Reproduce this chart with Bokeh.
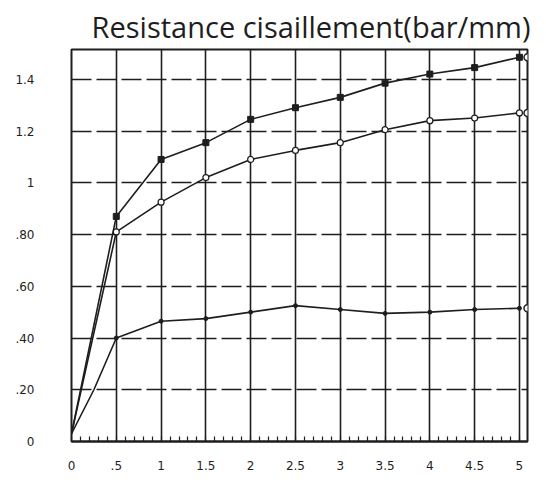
from bokeh.plotting import figure
from bokeh.models import SingleIntervalTicker, FixedTicker, Range1d
from bokeh.embed import file_html
from bokeh.resources import INLINE

# Shear resistance (bar/mm) for three test series
x_main = [0, 0.5, 1, 1.5, 2, 2.5, 3, 3.5, 4, 4.5, 5]
series_top = [0.03, 0.87, 1.09, 1.155, 1.245, 1.29, 1.33, 1.385, 1.42, 1.445, 1.485]
series_mid = [0.03, 0.81, 0.925, 1.02, 1.09, 1.125, 1.155, 1.205, 1.24, 1.25, 1.27]
x_low = [0, 0.25, 0.5, 1, 1.5, 2, 2.5, 3, 3.5, 4, 4.5, 5]
series_low = [0.03, 0.2, 0.40, 0.465, 0.475, 0.50, 0.525, 0.51, 0.495, 0.50, 0.51, 0.515]

x_ticks = [0, 0.5, 1, 1.5, 2, 2.5, 3, 3.5, 4, 4.5, 5]
x_tick_labels = ["0", ".5", "1", "1.5", "2", "2.5", "3", "3.5", "4", "4.5", "5"]
y_ticks = [0, 0.2, 0.4, 0.6, 0.8, 1.0, 1.2, 1.4]
y_tick_labels = ["0", ".20", ".40", ".60", ".80", "1", "1.2", "1.4"]

INK = "#1e1e1e"
FONT = "DejaVu Sans"

p = figure(width=546, height=487, output_backend="svg", toolbar_location=None,
           x_range=Range1d(0, 5.09), y_range=Range1d(0, 1.515),
           min_border_left=71, min_border_right=19, min_border_top=49,
           min_border_bottom=46)

p.title.text = "Resistance cisaillement(bar/mm)"
p.title.text_font = "Open Sans"
p.title.text_font_style = "normal"
p.title.text_font_size = "29px"
p.title.text_color = INK
p.title.align = "right"
p.title.offset = -3
p.title.standoff = 8

p.outline_line_color = INK
p.outline_line_width = 2
p.background_fill_color = "white"
p.border_fill_color = "white"

# x axis: majors every 0.5 with minor ticks pointing into the frame
xa = p.xaxis[0]
xa.ticker = SingleIntervalTicker(interval=0.5, num_minor_ticks=5)
xa.major_label_overrides = {t: s for t, s in zip(x_ticks, x_tick_labels)}
xa.major_label_text_font = FONT
xa.major_label_text_font_size = "12px"
xa.major_label_text_color = INK
xa.major_label_standoff = 19
xa.axis_line_color = INK
xa.axis_line_width = 2
xa.major_tick_in = 0
xa.major_tick_out = 0
xa.minor_tick_in = 5
xa.minor_tick_out = 0
xa.minor_tick_line_color = INK
xa.minor_tick_line_width = 1.2

# y axis: labels only, left aligned; the grid carries the ticks
ya = p.yaxis[0]
ya.ticker = FixedTicker(ticks=y_ticks)
ya.major_label_overrides = {t: s for t, s in zip(y_ticks, y_tick_labels)}
ya.major_label_text_font = FONT
ya.major_label_text_font_size = "12px"
ya.major_label_text_color = INK
ya.major_label_text_align = "left"
ya.major_label_standoff = 31
ya.axis_line_color = None
ya.major_tick_line_color = None
ya.minor_tick_line_color = None

p.xgrid.ticker = FixedTicker(ticks=x_ticks)
p.xgrid.grid_line_color = INK
p.xgrid.grid_line_width = 1.6
p.ygrid.ticker = FixedTicker(ticks=y_ticks)
p.ygrid.grid_line_color = INK
p.ygrid.grid_line_width = 1.5
p.ygrid.grid_line_dash = "20 5"

# curves
p.line(x_main, series_top, line_color=INK, line_width=1.6)
p.scatter(x_main[1:], series_top[1:], marker="square", size=6,
          fill_color=INK, line_color=INK)

p.line(x_main, series_mid, line_color=INK, line_width=1.6)
p.scatter(x_main[1:], series_mid[1:], marker="circle", size=6,
          fill_color="white", line_color=INK, line_width=1.2)

p.line(x_low, series_low, line_color=INK, line_width=1.6)
p.scatter(x_low[2:], series_low[2:], marker="circle", size=4,
          fill_color=INK, line_color=INK)

# series end symbols on the right border
p.scatter([5.09] * 3, [series_top[-1], series_mid[-1], series_low[-1]],
          marker="circle", size=7, fill_color="white", line_color=INK,
          line_width=1.5)

open("out.html", "w").write(file_html(p, INLINE))
